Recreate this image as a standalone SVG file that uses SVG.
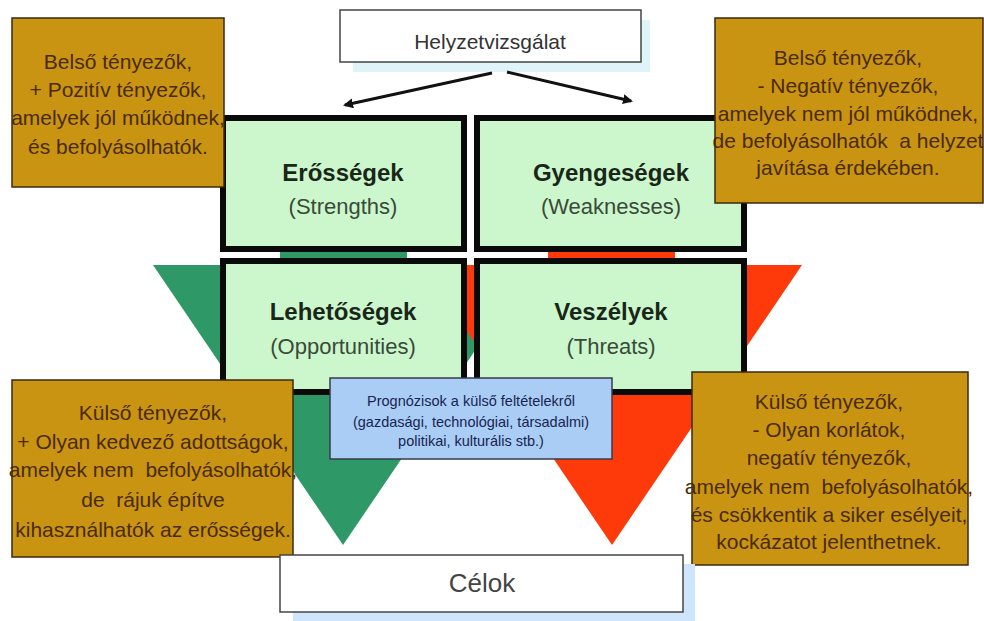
<svg xmlns="http://www.w3.org/2000/svg" width="984" height="621" viewBox="0 0 984 621">
<defs>
<marker id="ah" markerWidth="10" markerHeight="10" refX="8" refY="5" orient="auto" markerUnits="userSpaceOnUse">
<path d="M0,0 L10,5 L0,10 z" fill="#111"/>
</marker>
<style>
text{font-family:"Liberation Sans",Arial,sans-serif;text-anchor:middle;white-space:pre}
.or{fill:#c99412;stroke:#3a2a10;stroke-width:1.5}
.ot{font-size:21px;fill:#4a2a00}
.sw{fill:#ccf7cc;stroke:#0a0a0a;stroke-width:6}
.t1{font-size:24px;font-weight:bold;fill:#1a261a}
.t2{font-size:22px;fill:#3a4a3a}
.wb{fill:#ffffff;stroke:#444;stroke-width:1.5}
</style>
</defs>
<rect width="984" height="621" fill="#ffffff"/>
<g id="triangles">
<polygon points="153,265 533,265 343,545" fill="#2e9966"/>
<polygon points="422,265 802,265 612,545" fill="#ff3a0a"/>
<rect x="280" y="252" width="127" height="8" fill="#2e9966"/>
<rect x="548" y="252" width="127" height="8" fill="#ff3a0a"/>
</g>
<g id="erossegek">
<rect class="sw" x="223" y="118" width="241" height="131"/>
<text class="t1" x="343" y="181">Erősségek</text>
<text class="t2" x="343" y="214">(Strengths)</text>
</g>
<g id="gyengesegek">
<rect class="sw" x="477" y="118" width="267" height="131"/>
<text class="t1" x="611" y="181">Gyengeségek</text>
<text class="t2" x="611" y="214">(Weaknesses)</text>
</g>
<g id="lehetosegek">
<rect class="sw" x="223" y="261" width="241" height="131"/>
<text class="t1" x="343" y="320">Lehetőségek</text>
<text class="t2" x="343" y="354">(Opportunities)</text>
</g>
<g id="veszelyek">
<rect class="sw" x="477" y="261" width="267" height="131"/>
<text class="t1" x="611" y="320">Veszélyek</text>
<text class="t2" x="611" y="354">(Threats)</text>
</g>
<g id="helyzetvizsgalat">
<rect x="353" y="20" width="297" height="52" fill="#dff4f9"/>
<rect class="wb" x="340" y="10" width="301" height="52"/>
<text x="490" y="49" style="font-size:21px;fill:#333">Helyzetvizsgálat</text>
</g>
<g id="connectors">
<line x1="492" y1="73" x2="345" y2="105" stroke="#111" stroke-width="3" marker-end="url(#ah)"/>
<line x1="507" y1="72" x2="631" y2="101" stroke="#111" stroke-width="3" marker-end="url(#ah)"/>
</g>
<g id="belso-pozitiv">
<rect class="or" x="12" y="18" width="212" height="169"/>
<text class="ot" x="118" y="69">Belső tényezők,</text>
<text class="ot" x="118" y="97">+ Pozitív tényezők,</text>
<text class="ot" x="118" y="125">amelyek jól működnek,</text>
<text class="ot" x="118" y="154">és befolyásolhatók.</text>
</g>
<g id="belso-negativ">
<rect class="or" x="715" y="18" width="268" height="185"/>
<text class="ot" x="848" y="65">Belső tényezők,</text>
<text class="ot" x="848" y="93">- Negatív tényezők,</text>
<text class="ot" x="848" y="121">amelyek nem jól működnek,</text>
<text class="ot" x="848" y="148">de befolyásolhatók  a helyzet</text>
<text class="ot" x="848" y="175">javítása érdekében.</text>
</g>
<g id="kulso-pozitiv">
<rect class="or" x="12" y="380" width="281" height="177"/>
<text class="ot" x="153" y="420">Külső tényezők,</text>
<text class="ot" x="153" y="449">+ Olyan kedvező adottságok,</text>
<text class="ot" x="153" y="477">amelyek nem  befolyásolhatók,</text>
<text class="ot" x="153" y="507">de  rájuk építve</text>
<text class="ot" x="153" y="537">kihasználhatók az erősségek.</text>
</g>
<g id="kulso-negativ">
<rect class="or" x="692" y="372" width="276" height="193"/>
<text class="ot" x="829" y="409">Külső tényezők,</text>
<text class="ot" x="829" y="437">- Olyan korlátok,</text>
<text class="ot" x="829" y="465">negatív tényezők,</text>
<text class="ot" x="829" y="494">amelyek nem  befolyásolhatók,</text>
<text class="ot" x="829" y="522">és csökkentik a siker esélyeit,</text>
<text class="ot" x="829" y="549">kockázatot jelenthetnek.</text>
</g>
<g id="prognozisok">
<rect x="330" y="378" width="282" height="81" fill="#a9cdf5" stroke="#3a3a4a" stroke-width="1.5"/>
<text x="471" y="406" style="font-size:14.5px;fill:#1a2450">Prognózisok a külső feltételekről</text>
<text x="471" y="427" style="font-size:14.5px;fill:#1a2450">(gazdasági, technológiai, társadalmi)</text>
<text x="471" y="446" style="font-size:14.5px;fill:#1a2450">politikai, kulturális stb.)</text>
</g>
<g id="celok">
<rect x="293" y="564" width="402" height="57" fill="#cfe5fb"/>
<rect class="wb" x="280" y="555" width="403" height="57"/>
<text x="482" y="592" style="font-size:26px;fill:#444">Célok</text>
</g>
</svg>
